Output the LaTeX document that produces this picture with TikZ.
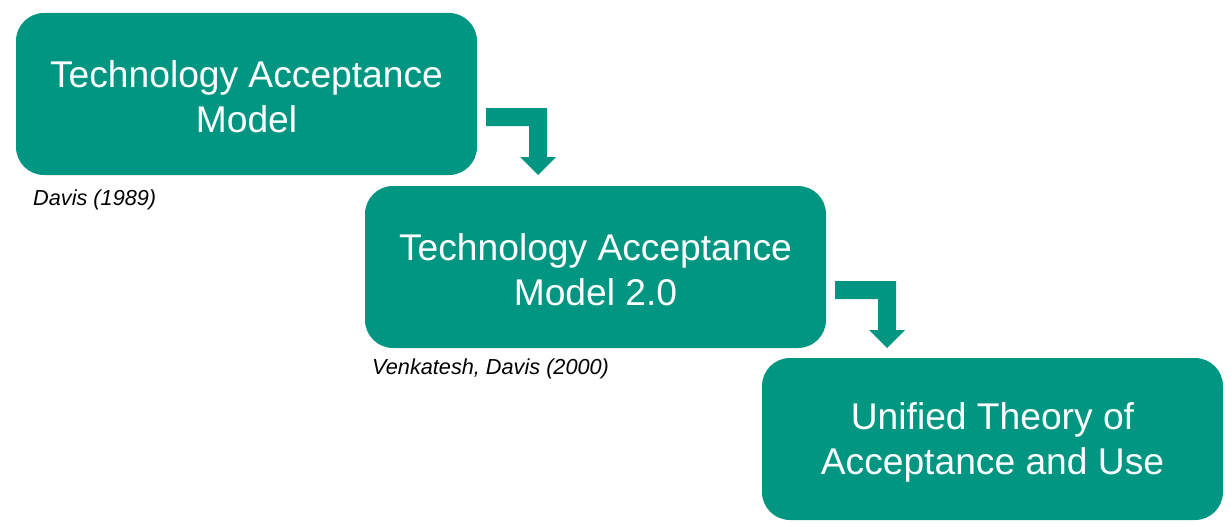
\documentclass[tikz,border=0pt]{standalone}
\usepackage{fontspec}
\setmainfont{Liberation Sans}
\usetikzlibrary{calc}
\definecolor{teal1}{RGB}{0,150,130}
\begin{document}
\begin{tikzpicture}[x=1pt,y=-1pt,
  box/.style={fill=teal1,rounded corners=28pt,minimum width=461pt,minimum height=162pt,inner sep=0pt},
  boxtext/.style={text=white,align=center,inner sep=0pt,font=\fontsize{37.2}{45}\selectfont},
  cite/.style={anchor=west,inner sep=0pt,font=\fontsize{21.7}{25}\selectfont\itshape},
  blockarrow/.style={fill=teal1}]
\useasboundingbox (0,0) rectangle (1232,527);
\node[box] (b1) at (246.5,94) {};
\node[box] (b2) at (595.5,267) {};
\node[box] (b3) at (992.5,439) {};
\node[boxtext] (t1) at ($(b1.center)+(0,3)$) {Technology Acceptance\\Model};
\node[boxtext] (t2) at ($(b2.center)+(0,3)$) {Technology Acceptance\\Model 2.0};
\node[boxtext] (t3) at ($(b3.center)+(0,3.5)$) {Unified Theory of\\Acceptance and Use};
\node[cite] (c1) at (33,200) {Davis (1989)};
\node[cite] (c2) at (372,369) {Venkatesh, Davis (2000)};
\foreach \b in {b1,b2}{
  \fill[blockarrow] ($(\b.east)+(9,14)$) -- ($(\b.east)+(70,14)$) -- ($(\b.east)+(70,63)$)
    -- ($(\b.east)+(79,63)$) -- ($(\b.east)+(61,81)$) -- ($(\b.east)+(43,63)$)
    -- ($(\b.east)+(52,63)$) -- ($(\b.east)+(52,32)$) -- ($(\b.east)+(9,32)$) -- cycle;
}
\end{tikzpicture}
\end{document}
